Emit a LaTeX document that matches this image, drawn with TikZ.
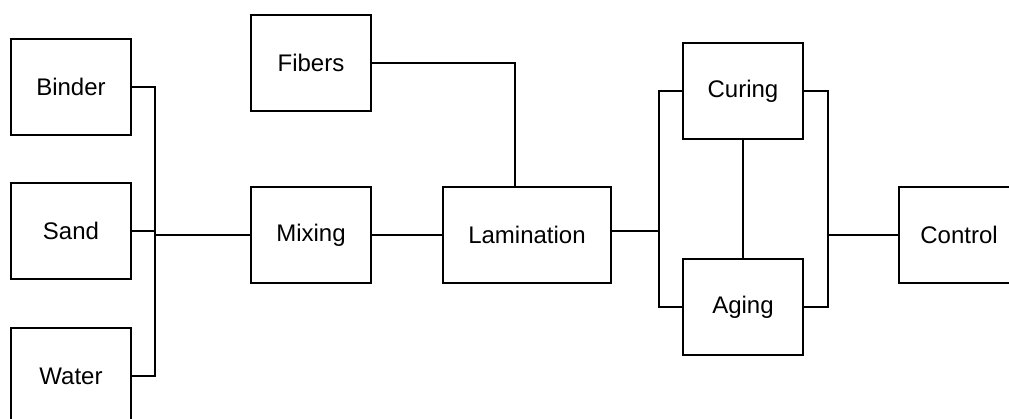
\documentclass[tikz,border=0pt]{standalone}
\usepackage{fontspec}
\setmainfont{Liberation Sans}
\usetikzlibrary{positioning,calc}

\begin{document}
\begin{tikzpicture}[
    x=1pt, y=-1pt,
    stagebox/.style={rectangle, draw=black, line width=1.6pt, minimum width=120pt,
                     minimum height=96pt, inner sep=4pt, font=\fontsize{24}{28}\selectfont},
    widebox/.style={stagebox, minimum width=168pt},
    link/.style={line width=1.6pt, black}
  ]
    \useasboundingbox (0,0) rectangle (1009,419);
    \clip (0,0) rectangle (1009,419);

    % Raw materials
    \node[stagebox] (binder) at (71,87)  {Binder};
    \node[stagebox] (sand)   at (71,231) {Sand};
    \node[stagebox] (water)  at (71,376) {Water};

    % Process stages
    \node[stagebox] (fibers) at (311,63)  {Fibers};
    \node[stagebox] (mixing) at (311,235) {Mixing};
    \node[widebox]  (lamin)  at (527,235) {Lamination};
    \node[stagebox] (curing) at (743,91)  {Curing};
    \node[stagebox] (aging)  at (743,307) {Aging};
    \node[stagebox] (control) at (959,235) {Control};

    % Junctions
    \coordinate (jin)  at (155,235);
    \coordinate (jmid) at (659,231);
    \coordinate (jout) at (828,235);

    % Materials -> mixing
    \draw[link] (binder.east) -| (jin) |- (water.east);
    \draw[link] (sand.east) -- (sand.east -| jin);
    \draw[link] (jin) -- (mixing.west);

    % Mixing / fibers -> lamination
    \draw[link] (mixing.east) -- (lamin.west);
    \draw[link] (fibers.east) -| ([xshift=-12pt]lamin.north);

    % Lamination -> curing / aging
    \draw[link] (lamin.east |- jmid) -- (jmid);
    \draw[link] (curing.west) -| (jmid) |- (aging.west);
    \draw[link] (curing.south) -- (aging.north);

    % Curing / aging -> control
    \draw[link] (curing.east) -| (jout) |- (aging.east);
    \draw[link] (jout) -- (control.west);
  \end{tikzpicture}
\end{document}
